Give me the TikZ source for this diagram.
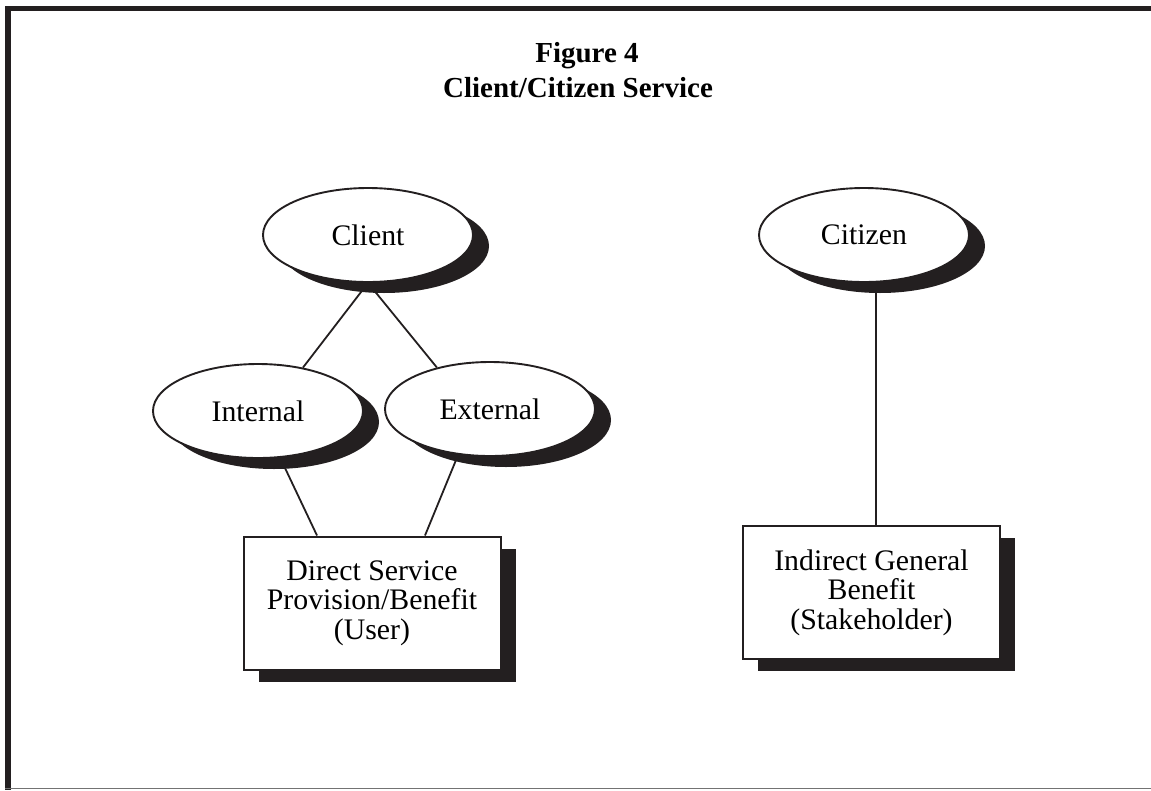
\documentclass[tikz,border=0pt]{standalone}
\usepackage{fontspec}
\setmainfont{Liberation Serif}
\usetikzlibrary{shapes.geometric,shadows}
\pgfdeclarelayer{bg}
\pgfsetlayers{bg,main}
\definecolor{ink}{HTML}{231F20}
\begin{document}
\begin{tikzpicture}[x=1pt,y=-1pt,
  txt/.style={font=\fontsize{29.8}{29.5}\selectfont},
  oval/.style={ellipse,draw=ink,line width=1.9pt,fill=white,
    minimum width=210pt,minimum height=94pt,inner sep=0pt,txt,
    general shadow={fill=ink,shadow xshift=16pt,shadow yshift=-11pt}},
  box/.style={rectangle,draw=ink,line width=2pt,fill=white,
    minimum width=257pt,minimum height=133pt,align=center,txt,
    general shadow={fill=ink,shadow xshift=15pt,shadow yshift=-12pt}},
  link/.style={draw=ink,line width=1.8pt},
  title/.style={font=\bfseries\fontsize{29}{30}\selectfont,anchor=base}]
\useasboundingbox (0,0) rectangle (1151,790);
% frame
\fill[ink] (5,6) rectangle (1151,11);
\fill[ink] (5,6) rectangle (11,790);
\draw[black!55,line width=1.2pt] (5,788.4) -- (1151,788.4);
% titles
\node[title] (t1) at (587,62) {Figure 4};
\node[title] (t2) at (578,97) {Client/Citizen Service};
% nodes
\node[oval] (client) at (368,235) {Client};
\node[oval] (internal) at (258,411) {Internal};
\node[oval] (external) at (490,409) {External};
\node[oval] (citizen) at (864,235) {Citizen};
\node[box] (direct) at (372,603) {\raisebox{-4pt}{\parbox{250pt}{\centering Direct Service\\Provision/Benefit\\(User)}}};
\node[box] (indirect) at (871.5,592.5) {\raisebox{-4pt}{\parbox{250pt}{\centering Indirect General\\Benefit\\(Stakeholder)}}};
% connectors
\begin{pgfonlayer}{bg}
\draw[link] (client.south) -- (internal.44);
\draw[link] (client.south) -- (external.142);
\draw[link] (internal.center) -- ([xshift=-55pt]direct.north);
\draw[link] ([xshift=-13pt]external.center) -- ([xshift=53pt]direct.north);
\draw[link] ([xshift=12pt]citizen.center) -- ([xshift=4.5pt]indirect.north);
\end{pgfonlayer}
\end{tikzpicture}
\end{document}
